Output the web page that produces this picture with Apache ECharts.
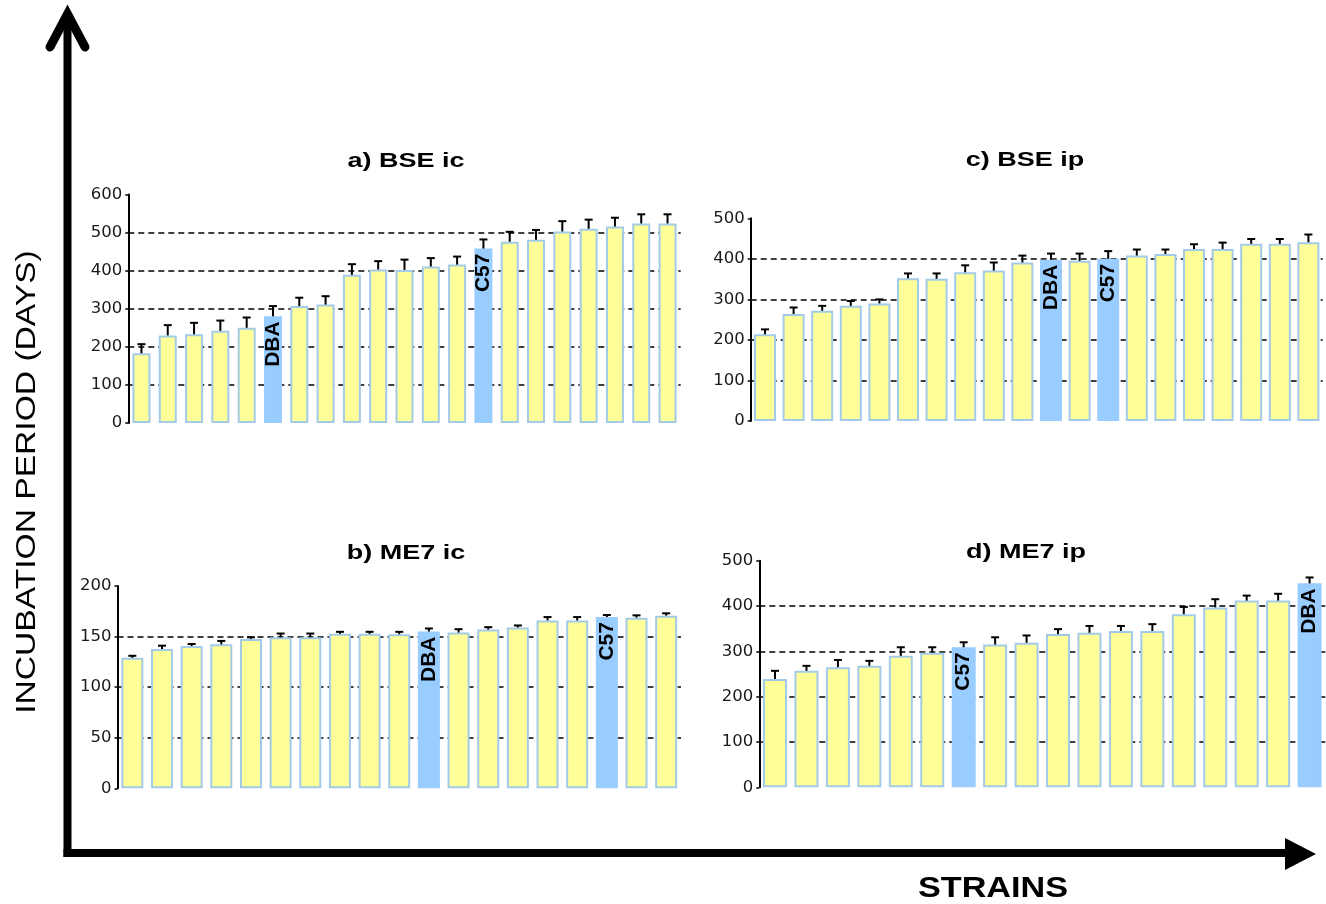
<!DOCTYPE html>
<html><head><meta charset="utf-8">
<script src="https://cdn.jsdelivr.net/npm/echarts@6/dist/echarts.min.js"></script>
<style>html,body{margin:0;padding:0;background:#fff}#c{width:1326px;height:904px}</style>
</head><body><div id="c"></div>
<script>
// a) BSE ic
const aLabels = ['', '', '', '', '', 'DBA', '', '', '', '', '', '', '', 'C57', '', '', '', '', '', '', ''];
const aValues = [183, 230, 233, 242, 250, 280, 307, 311, 389, 403, 402, 411, 416, 458, 476, 481, 503, 510, 516, 524, 524];
const aErrors = [24, 27, 30, 27, 27, 27, 22, 22, 28, 22, 27, 22, 21, 24, 26, 26, 27, 24, 23, 24, 24];
// c) BSE ip
const cLabels = ['', '', '', '', '', '', '', '', '', '', 'DBA', '', 'C57', '', '', '', '', '', '', ''];
const cValues = [214, 264, 272, 284, 290, 352, 351, 367, 371, 391, 398, 395, 400, 408, 412, 424, 424, 437, 437, 441];
const cErrors = [12, 16, 12, 12, 10, 12, 13, 17, 20, 17, 15, 18, 19, 15, 11, 12, 16, 12, 12, 19];
// b) ME7 ic
const bLabels = ['', '', '', '', '', '', '', '', '', '', 'DBA', '', '', '', '', '', 'C57', '', ''];
const bValues = [129, 137.7, 140.7, 142.3, 147.7, 149.3, 149.3, 152.7, 152.7, 152.3, 155, 154, 157, 159, 166, 166, 169.3, 168.7, 170.7];
const bErrors = [2, 3.3, 2, 3.4, 1.6, 3.7, 3.7, 2, 2, 2.4, 3, 3.3, 2.3, 2, 3.3, 3.3, 2, 2.3, 2.3];
// d) ME7 ip
const dLabels = ['', '', '', '', '', '', 'C57', '', '', '', '', '', '', '', '', '', '', 'DBA'];
const dValues = [239, 257, 265, 268, 290, 297, 309, 315, 319, 338, 341, 345, 345, 382, 397, 412, 412, 450];
const dErrors = [18, 11, 16, 11, 19, 12, 11, 16, 16, 11, 15, 11, 15, 16, 18, 11, 15, 13];

const titles = ['a) BSE ic', 'c) BSE ip', 'b) ME7 ic', 'd) ME7 ip'];
const yTitle = 'INCUBATION PERIOD (DAYS)';
const xTitle = 'STRAINS';

const YELLOW = '#FFFF99', YBORDER = '#A3CBE8', BLUE = '#99CCFF';

const panels = [
  {labels: aLabels, values: aValues, errors: aErrors, max: 600, interval: 100,
   grid: {left: 128.3, top: 194.5, width: 552.4, height: 228.5}, barWidth: 18},
  {labels: cLabels, values: cValues, errors: cErrors, max: 500, interval: 100,
   grid: {left: 750.7, top: 218.3, width: 572, height: 202.7}, barWidth: 22},
  {labels: bLabels, values: bValues, errors: bErrors, max: 200, interval: 50,
   grid: {left: 117.5, top: 586, width: 563.5, height: 202.3}, barWidth: 22},
  {labels: dLabels, values: dValues, errors: dErrors, max: 500, interval: 100,
   grid: {left: 759.3, top: 560.7, width: 566, height: 226.6}, barWidth: 24}
];

function errRender(params, api) {
  const i = api.value(0), v = api.value(1), e = api.value(2);
  const p0 = api.coord([i, v]);
  const p1 = api.coord([i, v + e]);
  const style = {stroke: '#000', lineWidth: 2};
  return {type: 'group', children: [
    {type: 'line', shape: {x1: p0[0], y1: p0[1], x2: p1[0], y2: p1[1]}, style: style},
    {type: 'line', shape: {x1: p1[0] - 4, y1: p1[1], x2: p1[0] + 4, y2: p1[1]}, style: style}
  ]};
}

const grids = [], xAxes = [], yAxes = [], series = [];
panels.forEach(function (p, k) {
  grids.push(Object.assign({outerBoundsMode: 'none', containLabel: false}, p.grid));
  xAxes.push({type: 'category', gridIndex: k, data: p.labels.map(function (l, i) { return String(i); }),
    axisLine: {show: false}, axisTick: {show: false}, axisLabel: {show: false}, splitLine: {show: false}});
  yAxes.push({type: 'value', gridIndex: k, min: 0, max: p.max, interval: p.interval,
    axisLine: {show: true, lineStyle: {color: '#000', width: 2}},
    axisTick: {show: true, length: 3, lineStyle: {color: '#000', width: 1.5}},
    axisLabel: {margin: 6, color: '#1a1a1a', fontSize: 16.5, fontFamily: 'DejaVu Sans'},
    splitLine: {show: true, showMinLine: false, showMaxLine: false,
      lineStyle: {color: '#000', width: 1.6, type: [6, 4]}}});
  series.push({type: 'bar', xAxisIndex: k, yAxisIndex: k, barWidth: p.barWidth,
    itemStyle: {color: YELLOW, borderColor: YBORDER, borderWidth: 2},
    data: p.values.map(function (v, i) {
      const lab = p.labels[i];
      if (!lab) return v;
      return {value: v, itemStyle: {color: BLUE, borderColor: BLUE},
        label: {show: true, formatter: lab, position: 'insideTop', rotate: 90, align: 'right',
          verticalAlign: 'middle', distance: 5, color: '#000', fontSize: 21, fontWeight: 'bold',
          fontFamily: 'Liberation Sans'}};
    })});
  series.push({type: 'custom', xAxisIndex: k, yAxisIndex: k, renderItem: errRender, z: 5,
    data: p.values.map(function (v, i) { return [i, v, p.errors[i]]; })});
});

const titlePos = [[406, 161], [1025, 160], [406, 553], [1026, 552]];
const graphic = [
  {type: 'line', shape: {x1: 67.5, y1: 857, x2: 67.5, y2: 16}, style: {stroke: '#000', lineWidth: 8}},
  {type: 'polyline', shape: {points: [[50, 47], [67.5, 14], [85, 47]]},
   style: {stroke: '#000', lineWidth: 9, lineCap: 'round', lineJoin: 'miter', fill: null}},
  {type: 'line', shape: {x1: 63.5, y1: 853, x2: 1292, y2: 853}, style: {stroke: '#000', lineWidth: 8}},
  {type: 'polygon', shape: {points: [[1285, 838], [1316, 854], [1285, 870]]}, style: {fill: '#000'}},
  {type: 'text', x: 27, y: 482, rotation: Math.PI / 2, scaleX: 1.2,
   style: {text: yTitle, fontSize: 28, fontFamily: 'Liberation Sans', fill: '#000', textAlign: 'center', textVerticalAlign: 'middle'}},
  {type: 'text', x: 993, y: 889, scaleX: 1.14,
   style: {text: xTitle, fontSize: 30, fontWeight: 'bold', fontFamily: 'Liberation Sans', fill: '#000', textAlign: 'center', textVerticalAlign: 'middle'}}
];
titles.forEach(function (t, k) {
  graphic.push({type: 'text', x: titlePos[k][0], y: titlePos[k][1], scaleX: 1.35,
    style: {text: t, fontSize: 20, fontWeight: 'bold', fontFamily: 'Liberation Sans', fill: '#000', textAlign: 'center', textVerticalAlign: 'middle'}});
});

const chart = echarts.init(document.getElementById('c'), null, {renderer: 'canvas'});
chart.setOption({animation: false, backgroundColor: '#fff', grid: grids, xAxis: xAxes, yAxis: yAxes, series: series, graphic: graphic});
</script></body></html>
